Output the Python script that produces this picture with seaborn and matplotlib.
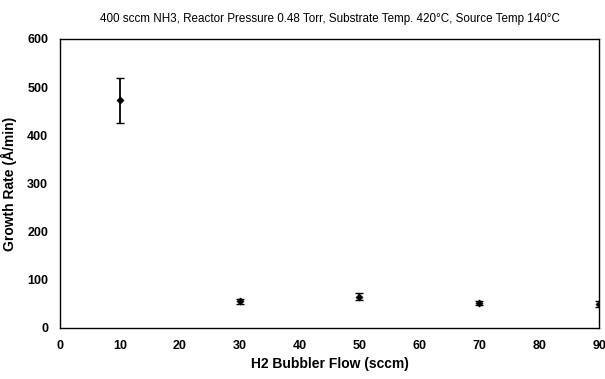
import matplotlib
matplotlib.use("Agg")
import matplotlib.pyplot as plt
import seaborn as sns
import pandas as pd

flow = [10, 30, 50, 70, 90]
rate = [473, 55, 65, 52, 50]
err = [47, 6, 7, 5, 6]
x_ticks = [0, 10, 20, 30, 40, 50, 60, 70, 80, 90]
y_ticks = [0, 100, 200, 300, 400, 500, 600]

sns.set_theme(style="white")
plt.rcParams['font.family'] = ['Liberation Sans', 'DejaVu Sans']
plt.rcParams['axes.labelcolor'] = 'black'
plt.rcParams['text.color'] = 'black'

df = pd.DataFrame({"flow": flow, "rate": rate, "err": err})

fig = plt.figure(figsize=(6.05, 3.79), dpi=100)
ax = fig.add_axes([0.0992, 0.1346, 0.891, 0.7625])
ax.errorbar(df["flow"], df["rate"], yerr=df["err"], fmt="none", ecolor="black",
            elinewidth=1.3, capsize=3.0, capthick=1.0, zorder=2)
sns.scatterplot(data=df, x="flow", y="rate", ax=ax, color="black", s=14,
                marker="D", edgecolor="black", zorder=3, legend=False)

ax.set_xlim(0, 90)
ax.set_ylim(0, 600)
ax.set_xticks(x_ticks)
ax.set_yticks(y_ticks)
ax.tick_params(direction="inout", length=5, width=0.8, labelsize=9, colors="black", pad=6)
for lab in ax.get_xticklabels() + ax.get_yticklabels():
    lab.set_fontweight("bold")
for sp in ax.spines.values():
    sp.set_color("black")
    sp.set_linewidth(1.0)
    sp.set_visible(True)

ax.set_xlabel("H2 Bubbler Flow (sccm)", fontsize=10, fontweight="bold", labelpad=4)
ax.set_ylabel("Growth Rate (Å/min)", fontsize=10, fontweight="bold", labelpad=7)
ax.set_title("400 sccm NH3, Reactor Pressure 0.48 Torr, Substrate Temp. 420°C, Source Temp 140°C",
             fontsize=8.4, pad=12)

fig.savefig("out.png", dpi=100)
